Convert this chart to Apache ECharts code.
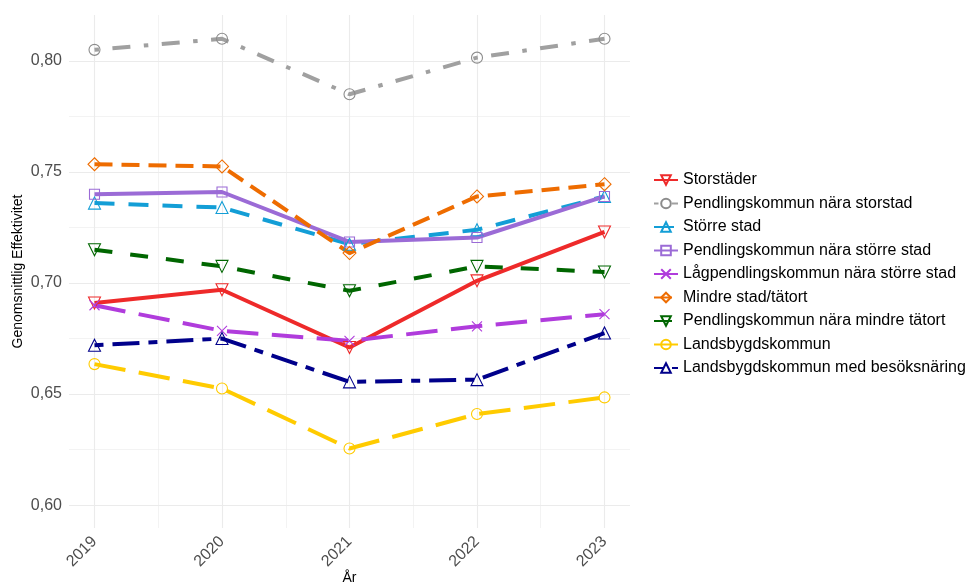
<!DOCTYPE html>
<html>
<head>
<meta charset="utf-8">
<script src="https://cdn.jsdelivr.net/npm/echarts@6/dist/echarts.min.js"></script>
<style>
  html, body { margin: 0; padding: 0; background: #ffffff; }
  #chart { width: 974px; height: 586px; }
</style>
</head>
<body>
<div id="chart"></div>
<script>
// data
const years = [2019, 2020, 2021, 2022, 2023]
const seriesNames = [
  'Storstäder',
  'Pendlingskommun nära storstad',
  'Större stad',
  'Pendlingskommun nära större stad',
  'Lågpendlingskommun nära större stad',
  'Mindre stad/tätort',
  'Pendlingskommun nära mindre tätort',
  'Landsbygdskommun',
  'Landsbygdskommun med besöksnäring'
]
const storstader = [0.691, 0.697, 0.671, 0.701, 0.723]
const pendlStorstad = [0.805, 0.810, 0.785, 0.8015, 0.810]
const storreStad = [0.736, 0.734, 0.7175, 0.724, 0.739]
const pendlStorreStad = [0.740, 0.741, 0.7185, 0.7205, 0.739]
const lagpendlStorreStad = [0.690, 0.6785, 0.674, 0.6805, 0.686]
const mindreStad = [0.7535, 0.7525, 0.7135, 0.739, 0.7445]
const pendlMindreTatort = [0.715, 0.7075, 0.6965, 0.7075, 0.705]
const landsbygd = [0.6635, 0.6525, 0.6255, 0.641, 0.6485]
const landsbygdBesok = [0.672, 0.675, 0.6555, 0.6565, 0.6775]
const seriesValues = [
  storstader, pendlStorstad, storreStad, pendlStorreStad, lagpendlStorreStad,
  mindreStad, pendlMindreTatort, landsbygd, landsbygdBesok
]

// tick labels / grid positions
const yMajorTicks = [0.60, 0.65, 0.70, 0.75, 0.80]
const yMinorTicks = [0.625, 0.675, 0.725, 0.775]
const xMinorTicks = [2019.5, 2020.5, 2021.5, 2022.5]

const FONT = '"Liberation Sans", Arial, Helvetica, sans-serif'
const GRID_COLOR = '#EBEBEB'
const CROSS = 'path://M0,0L10,10M10,0L0,10'
const Y_MIN = 0.5897
const Y_MAX = 0.8207

// look of every line: colour, dash, marker
const styles = [
  { color: '#EE2A2A', dash: 'solid', symbol: 'triangle', size: 12, rotate: 180 },
  { color: '#A0A0A0', dash: [4.5, 13.5, 18, 13.5], symbol: 'circle', size: 11, border: '#8C8C8C' },
  { color: '#139ED6', dash: [20, 14], symbol: 'triangle', size: 12 },
  { color: '#9B6BD6', dash: 'solid', symbol: 'rect', size: 10 },
  { color: '#B03CDC', dash: [31.5, 13.5], symbol: CROSS, size: 10 },
  { color: '#EE6C00', dash: [18, 9], symbol: 'diamond', size: 13 },
  { color: '#006600', dash: [18, 18], symbol: 'triangle', size: 12, rotate: 180 },
  { color: '#FFCB00', dash: [31.5, 13.5], symbol: 'circle', size: 11 },
  { color: '#00008B', dash: [9, 9, 27, 9], symbol: 'triangle', size: 12 }
]

function makeSeries (name, values, s) {
  return {
    name: name,
    type: 'line',
    data: years.map((y, i) => [y, values[i]]),
    symbol: s.symbol,
    symbolSize: s.size,
    symbolRotate: s.rotate || 0,
    showAllSymbol: true,
    lineStyle: { color: s.color, width: 4, type: s.dash, cap: 'butt' },
    itemStyle: { color: 'rgba(0,0,0,0)', borderColor: s.border || s.color, borderWidth: 1.1 },
    emphasis: { disabled: true },
    silent: true
  }
}

const chart = echarts.init(document.getElementById('chart'))

const option = {
  animation: false,
  backgroundColor: '#ffffff',
  textStyle: { fontFamily: FONT },
  grid: { left: 69, right: 344, top: 15, bottom: 58, containLabel: false, outerBoundsMode: 'none' },
  legend: {
    orient: 'vertical',
    left: 653,
    top: 172,
    padding: 0,
    itemWidth: 24,
    itemHeight: 12,
    itemGap: 7.5,
    selectedMode: false,
    data: seriesNames,
    textStyle: { fontSize: 16, color: '#000000', fontFamily: FONT, lineHeight: 16 }
  },
  xAxis: [
    {
      type: 'value',
      min: 2018.8,
      max: 2023.2,
      name: 'År',
      nameLocation: 'middle',
      nameGap: 43,
      nameMoveOverlap: false,
      nameTextStyle: { fontSize: 14, color: '#000000', fontFamily: FONT },
      axisLine: { show: false },
      axisTick: { show: false, customValues: years },
      axisLabel: {
        customValues: years,
        rotate: 45,
        margin: 11,
        fontSize: 16,
        color: '#4D4D4D',
        fontFamily: FONT,
        formatter: v => String(Math.round(v))
      },
      splitLine: { show: true, lineStyle: { color: GRID_COLOR, width: 1.1 } }
    },
    {
      // only carries the minor vertical grid lines
      type: 'value',
      min: 2018.8,
      max: 2023.2,
      axisLine: { show: false },
      axisTick: { show: false, customValues: xMinorTicks },
      axisLabel: { show: false, customValues: xMinorTicks },
      splitLine: { show: true, lineStyle: { color: GRID_COLOR, width: 0.6 } }
    }
  ],
  yAxis: [
    {
      type: 'value',
      min: Y_MIN,
      max: Y_MAX,
      name: 'Genomsnittlig Effektivitet',
      nameLocation: 'middle',
      nameGap: 44,
      nameMoveOverlap: false,
      nameTextStyle: { fontSize: 14, color: '#000000', fontFamily: FONT },
      axisLine: { show: false },
      axisTick: { show: false, customValues: yMajorTicks },
      axisLabel: {
        customValues: yMajorTicks,
        margin: 7,
        fontSize: 16,
        color: '#4D4D4D',
        fontFamily: FONT,
        formatter: v => v.toFixed(2).replace('.', ',')
      },
      splitLine: { show: true, lineStyle: { color: GRID_COLOR, width: 1.1 } }
    },
    {
      // minor horizontal grid lines
      type: 'value',
      min: Y_MIN,
      max: Y_MAX,
      axisLine: { show: false },
      axisTick: { show: false, customValues: yMinorTicks },
      axisLabel: { show: false, customValues: yMinorTicks },
      splitLine: { show: true, lineStyle: { color: GRID_COLOR, width: 0.6 } }
    }
  ],
  series: seriesNames.map((n, i) => makeSeries(n, seriesValues[i], styles[i]))
}

chart.setOption(option)
</script>
</body>
</html>
